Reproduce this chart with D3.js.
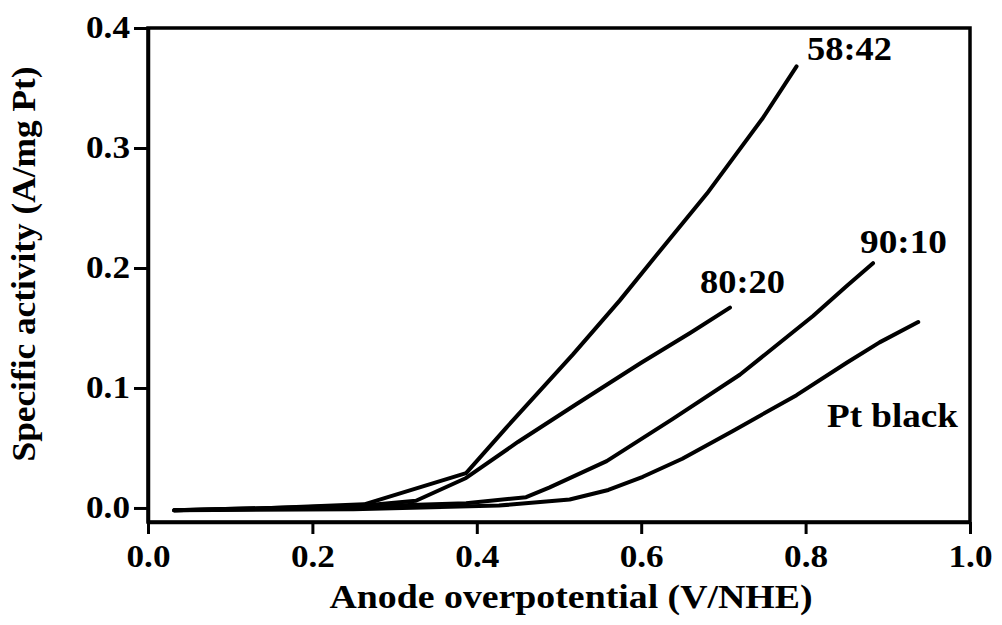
<!DOCTYPE html>
<html>
<head>
<meta charset="utf-8">
<script src="https://cdn.jsdelivr.net/npm/d3@7"></script>
<style>
  html, body { margin: 0; padding: 0; background: #fff; }
  text { font-family: "Liberation Serif", "Times New Roman", serif; font-weight: bold; fill: #000; }
</style>
</head>
<body>
<div id="chart"></div>
<script>
// values: [overpotential (V), specific activity (A/mg Pt)]
const s5842 = [[0.032, -0.002], [0.15, 0.0], [0.263, 0.003], [0.387, 0.029], [0.436, 0.067],
  [0.517, 0.128], [0.574, 0.173], [0.619, 0.211], [0.68, 0.262], [0.748, 0.325], [0.789, 0.368]];
const s8020 = [[0.032, -0.002], [0.15, 0.0], [0.263, 0.002], [0.326, 0.006], [0.387, 0.025],
  [0.45, 0.055], [0.52, 0.086], [0.6, 0.121], [0.66, 0.146], [0.708, 0.167]];
const s9010 = [[0.032, -0.002], [0.2, 0.0], [0.387, 0.004], [0.46, 0.009], [0.488, 0.017],
  [0.558, 0.039], [0.638, 0.074], [0.72, 0.111], [0.809, 0.16], [0.85, 0.185], [0.882, 0.204]];
const sPt = [[0.032, -0.002], [0.25, -0.001], [0.427, 0.002], [0.513, 0.007], [0.56, 0.015],
  [0.602, 0.026], [0.65, 0.041], [0.711, 0.064], [0.789, 0.094], [0.85, 0.121], [0.89, 0.138], [0.937, 0.155]];

const seriesNames = ["58:42", "80:20", "90:10", "Pt black"];
const seriesData = [s5842, s8020, s9010, sPt];

const xTicks = [0, 0.2, 0.4, 0.6, 0.8, 1.0];
const yTicks = [0, 0.1, 0.2, 0.3, 0.4];

const width = 1002, height = 625;
const margin = {left: 148, right: 32, top: 28, bottom: 103};

const svg = d3.select("#chart").append("svg")
  .attr("width", width)
  .attr("height", height);

const x = d3.scaleLinear().domain([0, 1]).range([margin.left, width - margin.right]);
const y = d3.scaleLinear().domain([-0.0117, 0.4]).range([height - margin.bottom, margin.top]);

// frame
svg.append("rect")
  .attr("x", x(0)).attr("y", y(0.4))
  .attr("width", x(1) - x(0)).attr("height", y(-0.0117) - y(0.4))
  .attr("fill", "none").attr("stroke", "#000").attr("stroke-width", 3.5);

const xAxis = svg.append("g")
  .attr("transform", `translate(0,${y(-0.0117)})`)
  .call(d3.axisBottom(x).tickValues(xTicks).tickFormat(d3.format(".1f")).tickSize(12).tickSizeOuter(0));

const yAxis = svg.append("g")
  .attr("transform", `translate(${x(0)},0)`)
  .call(d3.axisLeft(y).tickValues(yTicks).tickFormat(d3.format(".1f")).tickSize(14).tickSizeOuter(0));

[xAxis, yAxis].forEach(g => {
  g.attr("font-family", "'Liberation Serif', serif").attr("font-weight", "bold");
  g.select(".domain").attr("stroke-width", 3.5);
  g.selectAll(".tick line").attr("stroke-width", 3);
  g.selectAll(".tick text")
    .attr("font-size", 31)
    .attr("textLength", 44)
    .attr("lengthAdjust", "spacingAndGlyphs")
    .attr("fill", "#000");
});
xAxis.selectAll(".tick text").attr("y", 23).attr("dy", "0.71em");
yAxis.selectAll(".tick text").attr("x", -18);

// curves
const line = d3.line().x(d => x(d[0])).y(d => y(d[1]));
svg.append("g").selectAll("path")
  .data(seriesData)
  .join("path")
  .attr("d", line)
  .attr("fill", "none")
  .attr("stroke", "#000")
  .attr("stroke-width", 4)
  .attr("stroke-linejoin", "round")
  .attr("stroke-linecap", "round");

// series labels
const labelPos = [[807, 60, 85], [700, 293, 85], [860, 253, 87], [827, 427, 131]];
svg.append("g").selectAll("text")
  .data(seriesNames)
  .join("text")
  .attr("x", (d, i) => labelPos[i][0])
  .attr("y", (d, i) => labelPos[i][1])
  .attr("textLength", (d, i) => labelPos[i][2])
  .attr("lengthAdjust", "spacingAndGlyphs")
  .attr("font-size", 33)
  .text(d => d);

// axis titles
svg.append("text")
  .attr("x", 571).attr("y", 608)
  .attr("text-anchor", "middle")
  .attr("font-size", 33)
  .attr("textLength", 483)
  .attr("lengthAdjust", "spacingAndGlyphs")
  .text("Anode overpotential (V/NHE)");

svg.append("text")
  .attr("transform", "translate(35,264) rotate(-90)")
  .attr("text-anchor", "middle")
  .attr("font-size", 33)
  .attr("textLength", 395)
  .attr("lengthAdjust", "spacingAndGlyphs")
  .text("Specific activity (A/mg Pt)");
</script>
</body>
</html>
